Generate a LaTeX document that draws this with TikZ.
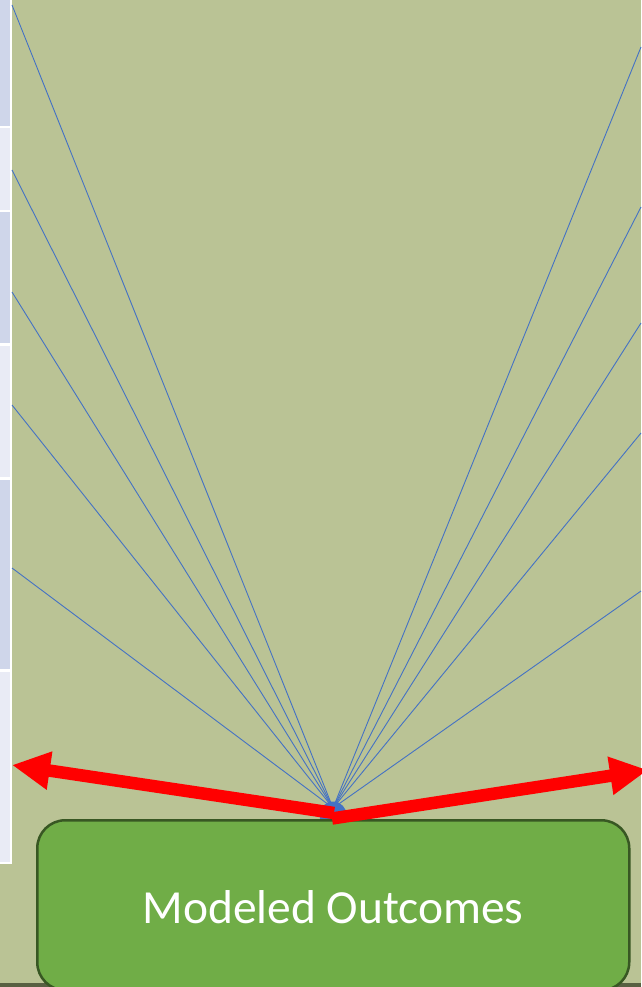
\documentclass[tikz,border=0pt]{standalone}
\usepackage{fontspec}
\setmainfont{Carlito}
\usetikzlibrary{arrows.meta}
\definecolor{bgolive}{RGB}{186,195,149}
\definecolor{celldark}{RGB}{207,214,234}
\definecolor{celllight}{RGB}{233,235,245}
\definecolor{rayblue}{RGB}{68,114,196}
\definecolor{boxgreen}{RGB}{112,173,71}
\definecolor{boxedge}{RGB}{56,87,35}
\definecolor{basestrip}{RGB}{88,96,66}
\tikzset{
  ray/.style={draw=rayblue, line width=0.9pt},
  redarrow/.style={draw=red, line width=12.5pt, -{Triangle[length=38pt,width=36pt]}},
  outcomebox/.style={draw=boxedge, line width=2.5pt, fill=boxgreen, rounded corners=28pt},
  cellA/.style={fill=celldark, draw=none},
  cellB/.style={fill=celllight, draw=none}
}
\begin{document}
\begin{tikzpicture}[x=1pt,y=-1pt]
\useasboundingbox (0,0) rectangle (641,987);
\fill[bgolive] (0,0) rectangle (641,987);
\fill[basestrip] (0,983) rectangle (641,987);
% left table strip
\fill[white] (0,0) rectangle (12,864);
\fill[cellA] (0,0) rectangle (9.5,126);
\fill[cellB] (0,128) rectangle (9.5,210);
\fill[cellA] (0,212) rectangle (9.5,343);
\fill[cellB] (0,346) rectangle (9.5,477);
\fill[cellA] (0,480) rectangle (9.5,669);
\fill[cellB] (0,672) rectangle (9.5,862);
% rays
\coordinate (o) at (333,808);
\coordinate (l1) at (12,5);
\coordinate (l2) at (12,170);
\coordinate (l3) at (12,292);
\coordinate (l4) at (12,405);
\coordinate (l5) at (12,568);
\coordinate (r1) at (641,47);
\coordinate (r2) at (641,207);
\coordinate (r3) at (641,323);
\coordinate (r4) at (641,433);
\coordinate (r5) at (641,591);
\foreach \p in {l1,l2,l3,l4,l5,r1,r2,r3,r4,r5} \draw[ray] (o) -- (\p);
\fill[rayblue] (333,815) circle (13.5);
% box
\node[outcomebox, minimum width=592pt, minimum height=170pt, anchor=north west, inner sep=0pt] (box) at (36,819) {};
\node[text=white, font=\fontsize{47.5}{57}\selectfont] (lbl) at (333,907) {Modeled Outcomes};
% red arrows
\coordinate (ls) at (334,813);
\coordinate (lt) at (12,765);
\coordinate (rs) at (332,818.5);
\coordinate (rt) at (648,770);
\draw[redarrow] (ls) -- (lt);
\draw[redarrow] (rs) -- (rt);
\end{tikzpicture}
\end{document}
